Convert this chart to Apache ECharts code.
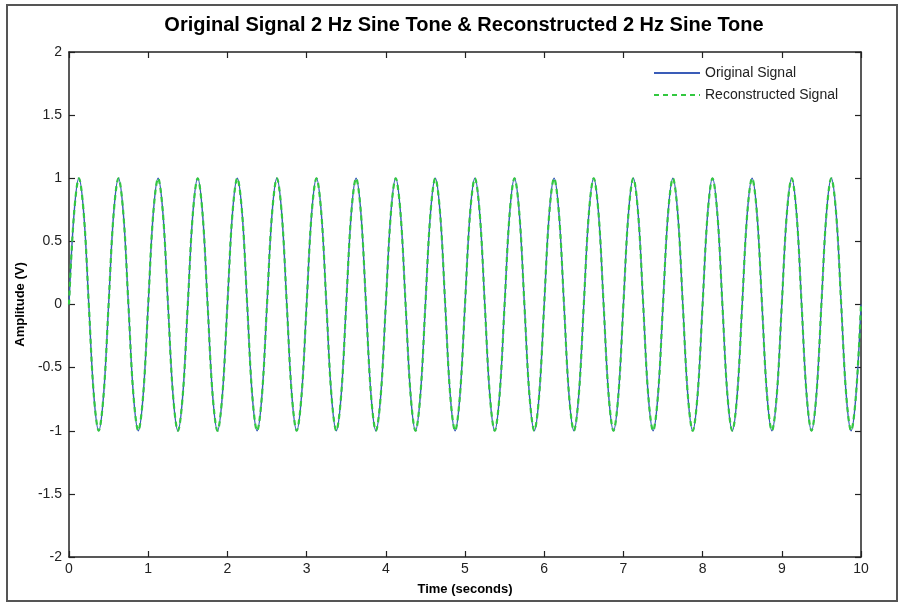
<!DOCTYPE html>
<html>
<head>
<meta charset="utf-8">
<script src="https://cdn.jsdelivr.net/npm/echarts@6/dist/echarts.min.js"></script>
<style>
html,body{margin:0;padding:0;background:#fff;}
#wrap{position:relative;width:900px;height:602px;}
#chart{width:900px;height:602px;}
#frame{position:absolute;left:6px;top:4px;width:888px;height:594px;border:2px solid #555;pointer-events:none;}
</style>
</head>
<body>
<div id="wrap"><div id="chart"></div><div id="frame"></div></div>
<script>
// Time samples (s)
const time = [
  0,0.0625,0.125,0.1875,0.25,0.3125,0.375,0.4375,
  0.5,0.5625,0.625,0.6875,0.75,0.8125,0.875,0.9375,
  1,1.0625,1.125,1.1875,1.25,1.3125,1.375,1.4375,
  1.5,1.5625,1.625,1.6875,1.75,1.8125,1.875,1.9375,
  2,2.0625,2.125,2.1875,2.25,2.3125,2.375,2.4375,
  2.5,2.5625,2.625,2.6875,2.75,2.8125,2.875,2.9375,
  3,3.0625,3.125,3.1875,3.25,3.3125,3.375,3.4375,
  3.5,3.5625,3.625,3.6875,3.75,3.8125,3.875,3.9375,
  4,4.0625,4.125,4.1875,4.25,4.3125,4.375,4.4375,
  4.5,4.5625,4.625,4.6875,4.75,4.8125,4.875,4.9375,
  5,5.0625,5.125,5.1875,5.25,5.3125,5.375,5.4375,
  5.5,5.5625,5.625,5.6875,5.75,5.8125,5.875,5.9375,
  6,6.0625,6.125,6.1875,6.25,6.3125,6.375,6.4375,
  6.5,6.5625,6.625,6.6875,6.75,6.8125,6.875,6.9375,
  7,7.0625,7.125,7.1875,7.25,7.3125,7.375,7.4375,
  7.5,7.5625,7.625,7.6875,7.75,7.8125,7.875,7.9375,
  8,8.0625,8.125,8.1875,8.25,8.3125,8.375,8.4375,
  8.5,8.5625,8.625,8.6875,8.75,8.8125,8.875,8.9375,
  9,9.0625,9.125,9.1875,9.25,9.3125,9.375,9.4375,
  9.5,9.5625,9.625,9.6875,9.75,9.8125,9.875,9.9375,
  10
];
// Original 2 Hz sine tone amplitude (V)
const originalSignal = [
  0,0.71,1,0.71,0,-0.71,-1,-0.71,
  0,0.71,1,0.71,0,-0.71,-1,-0.71,
  0,0.71,1,0.71,0,-0.71,-1,-0.71,
  0,0.71,1,0.71,0,-0.71,-1,-0.71,
  0,0.71,1,0.71,0,-0.71,-1,-0.71,
  0,0.71,1,0.71,0,-0.71,-1,-0.71,
  0,0.71,1,0.71,0,-0.71,-1,-0.71,
  0,0.71,1,0.71,0,-0.71,-1,-0.71,
  0,0.71,1,0.71,0,-0.71,-1,-0.71,
  0,0.71,1,0.71,0,-0.71,-1,-0.71,
  0,0.71,1,0.71,0,-0.71,-1,-0.71,
  0,0.71,1,0.71,0,-0.71,-1,-0.71,
  0,0.71,1,0.71,0,-0.71,-1,-0.71,
  0,0.71,1,0.71,0,-0.71,-1,-0.71,
  0,0.71,1,0.71,0,-0.71,-1,-0.71,
  0,0.71,1,0.71,0,-0.71,-1,-0.71,
  0,0.71,1,0.71,0,-0.71,-1,-0.71,
  0,0.71,1,0.71,0,-0.71,-1,-0.71,
  0,0.71,1,0.71,0,-0.71,-1,-0.71,
  0,0.71,1,0.71,0,-0.71,-1,-0.71,
  0
];
// Reconstructed signal amplitude (V)
const reconstructedSignal = [
  0,0.71,1,0.71,0,-0.71,-1,-0.71,
  0,0.71,1,0.71,0,-0.71,-1,-0.71,
  0,0.71,1,0.71,0,-0.71,-1,-0.71,
  0,0.71,1,0.71,0,-0.71,-1,-0.71,
  0,0.71,1,0.71,0,-0.71,-1,-0.71,
  0,0.71,1,0.71,0,-0.71,-1,-0.71,
  0,0.71,1,0.71,0,-0.71,-1,-0.71,
  0,0.71,1,0.71,0,-0.71,-1,-0.71,
  0,0.71,1,0.71,0,-0.71,-1,-0.71,
  0,0.71,1,0.71,0,-0.71,-1,-0.71,
  0,0.71,1,0.71,0,-0.71,-1,-0.71,
  0,0.71,1,0.71,0,-0.71,-1,-0.71,
  0,0.71,1,0.71,0,-0.71,-1,-0.71,
  0,0.71,1,0.71,0,-0.71,-1,-0.71,
  0,0.71,1,0.71,0,-0.71,-1,-0.71,
  0,0.71,1,0.71,0,-0.71,-1,-0.71,
  0,0.71,1,0.71,0,-0.71,-1,-0.71,
  0,0.71,1,0.71,0,-0.71,-1,-0.71,
  0,0.71,1,0.71,0,-0.71,-1,-0.71,
  0,0.71,1,0.71,0,-0.71,-1,-0.71,
  0
];
const xTicks = [0,1,2,3,4,5,6,7,8,9,10];
const yTicks = [-2,-1.5,-1,-0.5,0,0.5,1,1.5,2];
const seriesNames = ['Original Signal','Reconstructed Signal'];
const titleText = 'Original Signal 2 Hz Sine Tone & Reconstructed 2 Hz Sine Tone';

const FONT = 'Arial, "Liberation Sans", sans-serif';
const chart = echarts.init(document.getElementById('chart'), null, {renderer:'canvas'});

const origData = time.map((t,i)=>[t, originalSignal[i]]);
const recData = time.map((t,i)=>[t, reconstructedSignal[i]]);

const axisLine = {show:true, onZero:false, lineStyle:{color:'#222', width:1.5}};
const tickIn = {show:true, inside:true, length:6, lineStyle:{color:'#222', width:1.2}};

const option = {
  backgroundColor:'#fff',
  animation:false,
  title:{
    text:titleText, left:459, top:10, textAlign:'center',
    textStyle:{fontFamily:FONT, fontSize:20, fontWeight:'bold', color:'#000'}
  },
  legend:{
    orient:'vertical', left:653, top:66, padding:0, itemWidth:46, itemHeight:14, itemGap:8,
    itemStyle:{opacity:0},
    textStyle:{fontFamily:FONT, fontSize:14, color:'#222'},
    data:seriesNames
  },
  grid:{left:69, right:39, top:52, bottom:45, containLabel:false},
  xAxis:[
    {type:'value', min:xTicks[0], max:xTicks[xTicks.length-1], interval:1, position:'bottom',
     axisLine:axisLine, axisTick:tickIn, splitLine:{show:false},
     axisLabel:{fontFamily:FONT, fontSize:14, color:'#222', margin:5},
     name:'Time (seconds)', nameLocation:'middle', nameGap:26,
     nameTextStyle:{fontFamily:FONT, fontSize:13, fontWeight:'bold', color:'#000'}},
    {type:'value', min:xTicks[0], max:xTicks[xTicks.length-1], interval:1, position:'top',
     axisLine:axisLine, axisTick:tickIn, splitLine:{show:false}, axisLabel:{show:false}}
  ],
  yAxis:[
    {type:'value', min:yTicks[0], max:yTicks[yTicks.length-1], interval:0.5, position:'left',
     axisLine:axisLine, axisTick:tickIn, splitLine:{show:false},
     axisLabel:{fontFamily:FONT, fontSize:14, color:'#222', margin:7},
     name:'Amplitude (V)', nameLocation:'middle', nameGap:40, nameRotate:90,
     nameTextStyle:{fontFamily:FONT, fontSize:13, fontWeight:'bold', color:'#000'}},
    {type:'value', min:yTicks[0], max:yTicks[yTicks.length-1], interval:0.5, position:'right',
     axisLine:axisLine, axisTick:tickIn, splitLine:{show:false}, axisLabel:{show:false}}
  ],
  series:[
    {name:seriesNames[0], type:'line', data:origData, smooth:0.35, symbol:'none',
     lineStyle:{color:'#3a5cb8', width:1.4}, itemStyle:{color:'#3a5cb8'}},
    {name:seriesNames[1], type:'line', data:recData, smooth:0.35, symbol:'none',
     lineStyle:{color:'#33c840', width:2.2, type:[5,4]}, itemStyle:{color:'#33c840'}}
  ]
};
chart.setOption(option);
</script>
</body>
</html>
